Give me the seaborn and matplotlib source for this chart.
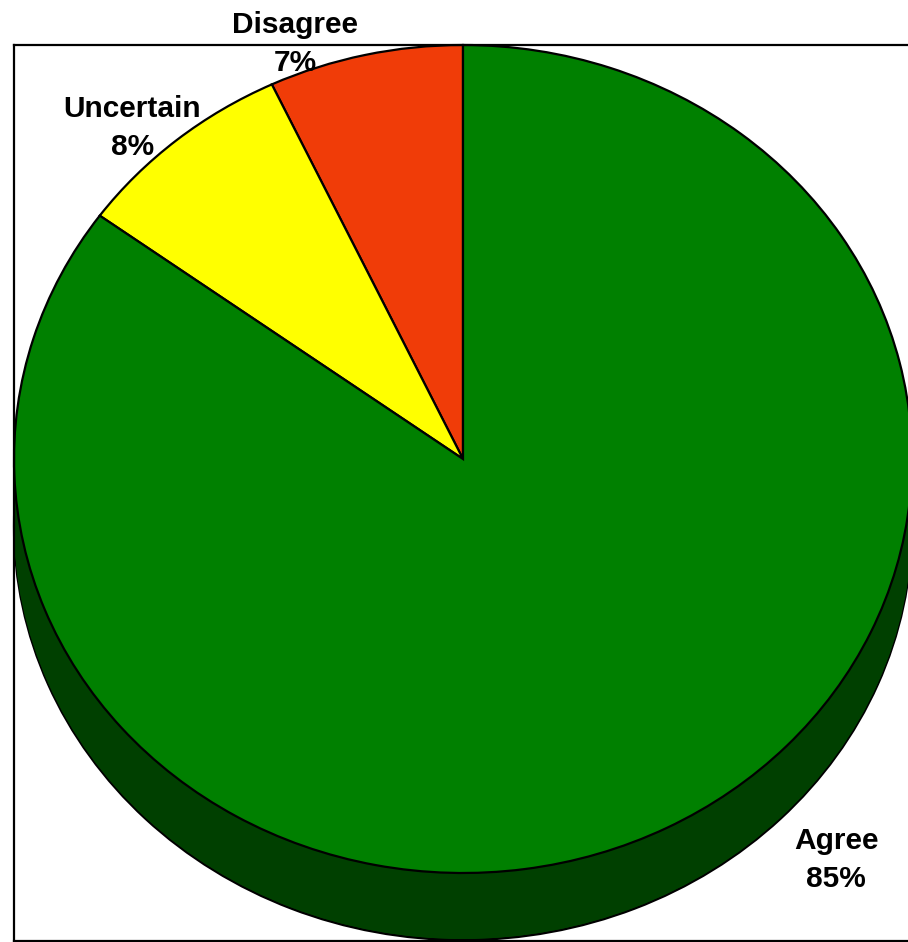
import matplotlib
matplotlib.use('Agg')
import matplotlib.pyplot as plt
import seaborn as sns

# Datos del grafico
categorias = ['Disagree', 'Uncertain', 'Agree']
porcentajes = [7, 8, 85]
colores = ['#F03C08', '#FFFF00', '#008000']
color_lado = '#004000'

sns.set_style('white')
plt.rcParams['font.family'] = ['Liberation Sans', 'DejaVu Sans']

fig = plt.figure(figsize=(9.08, 9.42), dpi=100)
ax = fig.add_axes([14 / 908, 1 / 942, 898 / 908, 896 / 942])

prof = 0.162  # profundidad del efecto 3D
borde = dict(edgecolor='black', linewidth=1.6)

# Cara inferior (lado del cilindro)
ax.pie([sum(porcentajes)], colors=[color_lado], center=(0, -prof), wedgeprops=borde, frame=True)
n = 60
for k in range(n):
    ax.pie([sum(porcentajes)], colors=[color_lado], center=(0, -prof * k / n),
           wedgeprops=dict(linewidth=0), frame=True)

# Cara superior
ax.pie(porcentajes, colors=colores, startangle=90, counterclock=True,
       wedgeprops=borde, frame=True)

# Etiquetas
pos_etiquetas = [(-0.374, 1.003), (-0.737, 0.80), (0.831, -0.969)]
for cat, p, (x, y) in zip(categorias, porcentajes, pos_etiquetas):
    ax.text(x, y, f'{cat}\n{p}%', ha='center', va='center', fontsize=21.5,
            fontweight='bold', linespacing=1.45, color='black', clip_on=False)

ax.set_aspect('auto')
ax.set_xlim(-1, 1)
ax.set_ylim(1 - 896 / 414, 1)
ax.set_xticks([])
ax.set_yticks([])
for s in ax.spines.values():
    s.set_visible(True)
    s.set_color('black')
    s.set_linewidth(1.6)

plt.savefig('out.png', dpi=100)
